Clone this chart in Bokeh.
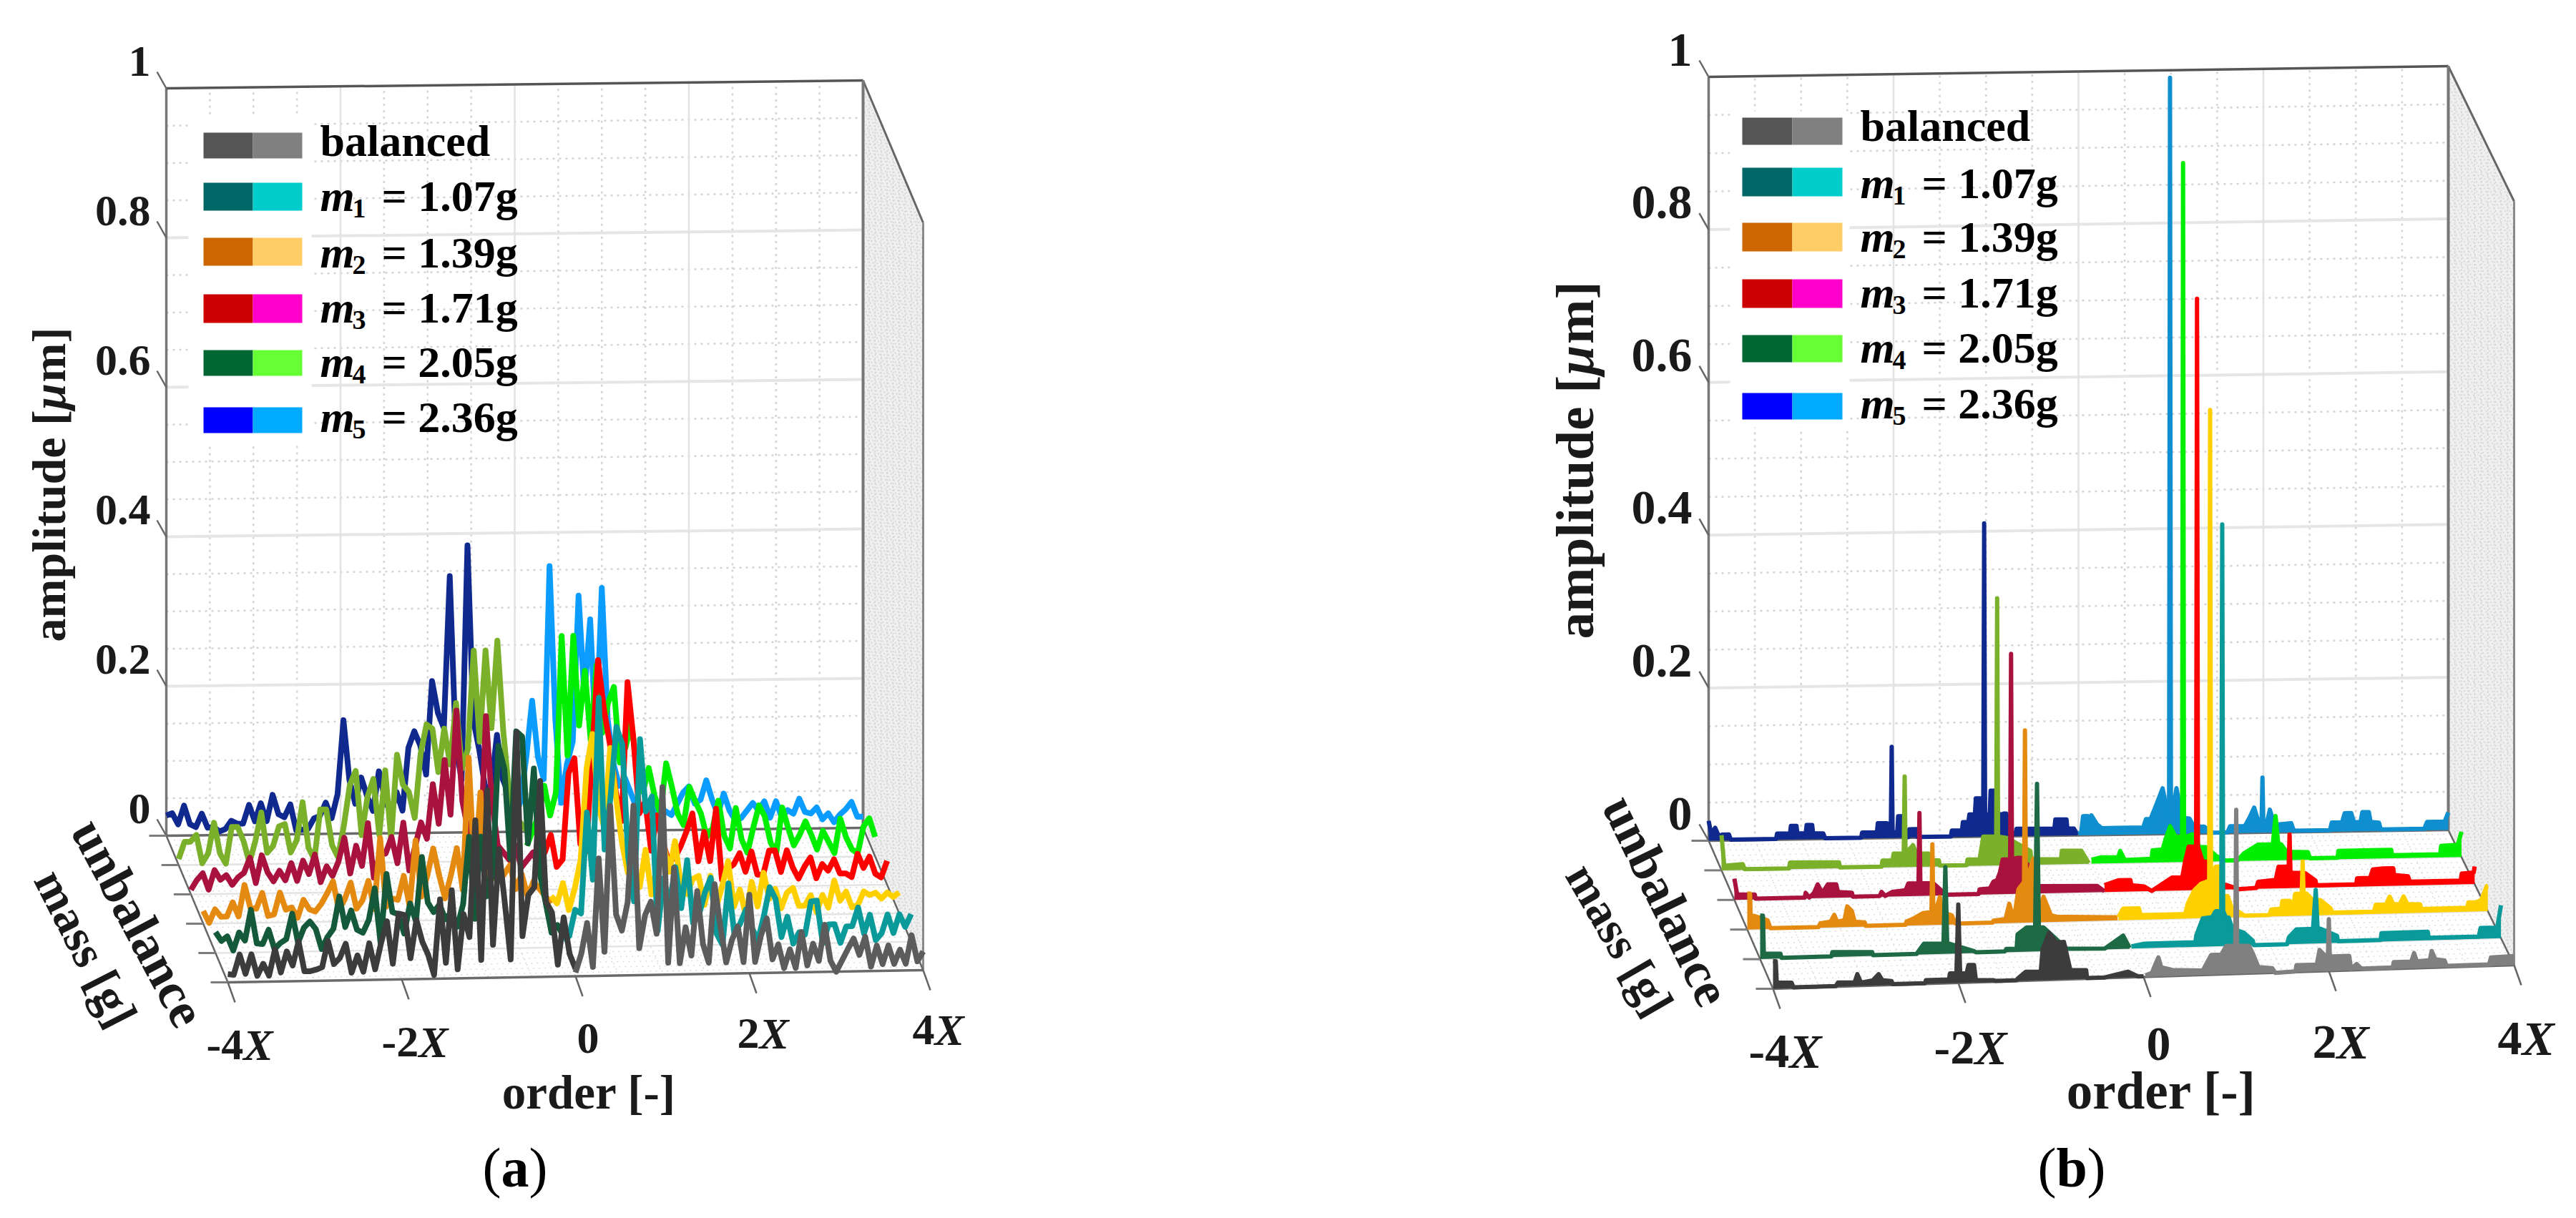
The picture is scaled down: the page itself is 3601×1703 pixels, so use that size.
import math
import numpy as np
from bokeh.plotting import figure
from bokeh.layouts import row
from bokeh.core.properties import value
from bokeh.embed import file_html
from bokeh.resources import INLINE

# ---------------- tick labels / text ----------------
amp_ticks = [0, 0.2, 0.4, 0.6, 0.8, 1]
amp_labels = ["0", "0.2", "0.4", "0.6", "0.8", "1"]
order_ticks = [-4, -2, 0, 2, 4]
order_prefix = ["-4", "-2", "0", "2", "4"]
legend_names = ["balanced", "1", "2", "3", "4", "5"]
legend_values = ["", "= 1.07g", "= 1.39g", "= 1.71g", "= 2.05g", "= 2.36g"]
legend_dark = ["#555555", "#006666", "#cc6600", "#cc0000", "#006633", "#0000ff"]
legend_light = ["#808080", "#00cccc", "#ffcc66", "#ff00cc", "#66ff33", "#00aaff"]

# rows from back (largest mass) to front (balanced)
row_names = ["m5", "m4", "m3", "m2", "m1", "bal"]
colors_a = [("#10298f", "#0a9cff"), ("#7ab02a", "#00ee00"), ("#a8123c", "#ff0000"),
            ("#e48a10", "#ffd000"), ("#14593a", "#0a9a9a"), ("#3c3c3c", "#5c5c5c")]
colors_b = [("#10298f", "#0f8fcf"), ("#7ab02a", "#00ee00"), ("#a8123c", "#ff0000"),
            ("#e48a10", "#ffd000"), ("#1e6a45", "#0a9a9a"), ("#3c3c3c", "#808080")]

# ---------------- panel (a): amplitudes in nm, evenly spaced in order ----------------
a_m5_L = [27,30,15,40,15,11,29,10,11,5,8,19,15,15,40,18,42,18,53,27,23,40,5,6,7,21,24,42,21,53,152,72,40,75,50,30,83,47,25,55,30,114,136,117,78,203,160,140,343,120,70,384,150,110,60,60,130,70,50,30]
a_m5_R = [20,40,100,175,100,70,355,150,38,90,120,315,180,283,120,325,150,90,60,70,50,30,30,25,25,30,25,20,35,50,58,35,40,66,40,20,48,25,12,15,25,35,25,37,15,37,15,25,20,40,22,20,28,12,20,8,18,25,35,15,15]
a_m4_L = [8,31,31,40,2,15,56,15,1,50,50,31,2,31,69,15,24,50,53,15,31,82,21,5,72,72,24,8,50,104,123,37,88,112,37,123,31,144,104,94,59,145,184,178,120,178,130,212,124,150,282,160,282,178,295,174,90,60,50,40]
a_m4_R = [20,40,60,100,60,90,300,140,300,180,253,160,260,170,210,231,130,150,183,120,90,122,85,60,128,96,60,45,96,77,60,29,40,77,30,13,67,25,7,40,70,55,20,7,67,40,16,30,48,30,10,35,20,5,51,26,10,4,40,51,26]
a_m3_L = [6,19,28,6,32,19,25,12,22,28,48,14,51,28,16,30,17,40,16,43,25,51,14,35,22,41,73,25,62,35,92,19,50,51,73,38,92,28,60,92,70,143,90,175,102,241,120,80,60,40,233,120,60,50,40,60,30,40,50,30]
a_m3_R = [40,50,73,30,40,155,175,60,50,180,306,240,194,130,90,276,200,100,116,50,97,60,35,40,55,75,99,35,74,35,105,10,25,30,45,20,47,16,16,48,48,19,48,25,10,26,38,10,29,20,35,16,16,11,42,23,38,15,10,32]
a_m2_L = [17,1,19,9,9,28,9,51,20,19,40,9,11,40,17,20,6,30,17,14,24,38,54,16,30,52,17,28,54,16,111,19,30,28,60,19,107,32,60,96,60,29,60,96,40,217,60,170,40,60,50,60,72,40,60,30,50,40,30,20]
a_m2_R = [30,20,47,11,40,78,200,246,150,120,227,160,100,60,70,40,90,30,70,100,60,101,40,30,50,54,15,54,12,40,73,12,35,0,45,12,57,22,35,9,30,36,12,12,26,3,26,9,45,18,30,9,12,30,25,28,20,28,22,28]
a_m1_L = [28,16,22,3,27,16,57,12,11,30,4,12,17,51,12,32,40,30,3,19,30,73,32,54,28,24,41,83,9,102,51,48,22,62,38,124,63,50,60,40,50,30,60,150,40,150,70,100,271,240,120,290,283,140,240,100,60,20,30,15]
a_m1_R = [10,15,50,45,180,90,333,130,200,294,270,120,60,277,180,200,20,90,55,105,50,114,30,40,70,90,15,0,82,15,28,47,22,5,37,76,60,9,36,0,15,12,56,57,0,25,25,0,22,22,47,12,37,3,12,37,12,37,20,37]
a_bal_L = [11,10,37,11,37,8,24,8,43,12,40,21,53,13,13,15,18,53,22,30,49,10,33,11,49,14,49,78,21,88,86,28,79,50,32,5,106,21,118,12,86,55,211,24,251,44,172,100,24,328,55,110,120,262,100,86,16,79,30,10]
a_bal_R = [5,30,71,12,157,32,227,82,60,98,227,36,80,98,55,251,16,143,15,63,25,111,40,15,120,63,15,45,63,15,105,15,50,73,18,38,6,31,6,54,9,38,15,63,15,0,15,30,44,22,46,6,34,9,34,9,28,9,47,12,25]

# ---------------- panel (b): envelope of the spectra, order and amplitude (nm) ----------------
b_m5_Lo = [-4.00,-3.97,-3.93,-3.89,-3.85,-3.78,-3.76,-3.27,-3.26,-3.12,-3.11,-3.05,-3.04,-2.95,-2.94,-2.88,-2.87,-2.76,-2.74,-2.35,-2.34,-2.18,-2.17,-2.07,-2.03,-2.02,-2.01,-1.96,-1.95,-1.90,-1.88,-1.84,-1.83,-1.75,-1.74,-1.38,-1.37,-1.26,-1.25,-1.19,-1.18,-1.12,-1.11,-1.06,-1.03,-1.02,-1.01,-.96,-.95,-.90,-.89,-.82,-.81,-.78,-.75,-.68,-.67,-.26,-.25,-.13,-.12,-.05,-.01]
b_m5_La = [26,8,17,6,8,8,1,1,9,9,19,19,9,9,20,20,9,9,1,1,10,10,22,22,10,122,10,10,31,31,3,3,14,14,2,2,12,12,23,23,33,33,54,54,33,414,33,33,64,64,33,33,34,34,8,8,14,14,26,26,14,14,2]
b_m5_Ro = [0,.03,.05,.1,.12,.14,.2,.25,.43,.70,.73,.78,.84,.91,.96,.98,.99,1.0,1.02,1.06,1.12,1.2,1.25,1.36,1.45,1.61,1.64,1.8,1.85,1.9,1.96,1.98,1.99,2.0,2.03,2.07,2.12,2.3,2.33,2.72,2.74,2.85,2.88,2.95,2.98,3.05,3.07,3.14,3.16,3.25,3.27,3.74,3.77,3.96,4.0]
b_m5_Ra = [2,4,25,25,14,26,14,9,9,9,20,20,38,60,30,30,990,30,30,60,21,20,9,9,1,1,9,9,20,33,9,9,72,9,9,30,10,12,2,2,12,12,24,24,12,12,25,25,12,11,2,2,11,11,23]
b_m4_Lo = [-4.0,-3.97,-3.77,-3.75,-3.27,-3.26,-2.73,-2.72,-2.27,-2.26,-2.15,-2.14,-2.03,-2.02,-2.01,-1.93,-1.89,-1.76,-1.74,-1.65,-1.64,-1.35,-1.34,-1.21,-1.17,-1.03,-1.02,-1.01,-.91,-.66,-.65,-.33,-.32,-.11,-.03]
b_m4_La = [46,6,8,1,1,10,10,2,2,12,12,21,21,122,21,32,21,21,12,12,4,4,13,13,43,43,355,43,41,24,13,13,24,24,6]
b_m4_Ro = [0,.1,.29,.31,.36,.65,.66,.77,.8,.85,.91,.96,.98,.99,1.0,1.02,1.09,1.17,1.24,1.35,1.45,1.58,1.65,1.8,1.92,1.96,1.99,2.02,2.05,2.11,2.34,2.36,2.66,2.67,3.24,3.25,3.77,3.78,3.96,4.0]
b_m4_Ra = [5,8,8,16,4,5,16,17,30,47,33,33,33,915,33,33,36,19,19,7,1,1,10,21,21,21,58,21,21,11,10,2,2,11,11,4,4,15,16,33]
b_m3_Lo = [-4.0,-3.97,-3.78,-3.77,-3.24,-3.23,-3.19,-3.14,-3.1,-3.05,-2.99,-2.9,-2.88,-2.73,-2.72,-2.43,-2.41,-2.37,-2.29,-2.15,-2.12,-2.03,-2.01,-2.0,-1.99,-1.97,-1.85,-1.74,-1.71,-1.36,-1.35,-1.24,-1.2,-1.16,-1.13,-1.1,-1.06,-1.02,-1.01,-1.0,-.95,-.9,-.83,-.81,-.69,-.08,0]
b_m3_La = [28,7,7,1,2,9,2,9,20,9,20,20,10,9,1,1,10,3,10,12,21,21,21,113,21,21,21,9,4,4,13,14,23,25,35,52,52,52,321,52,54,54,45,17,17,17,9]
b_m3_Ro = [0,.15,.28,.29,.43,.51,.73,.84,.87,.91,.95,.99,1.0,1.01,1.06,1.1,1.12,1.31,1.45,1.64,1.66,1.85,1.88,1.96,1.99,2.0,2.01,2.03,2.17,2.28,2.29,2.72,2.73,2.87,2.9,3.01,3.12,3.13,3.28,3.3,3.85,3.86,3.99,4.0]
b_m3_Ra = [9,15,15,8,6,0,17,17,37,57,57,57,774,57,37,37,9,6,0,1,9,11,28,28,28,70,20,20,19,9,3,3,11,11,22,23,23,14,12,5,5,14,15,23]
b_m2_Lo = [-4.0,-3.97,-3.96,-3.93,-3.78,-3.75,-3.23,-3.21,-3.1,-3.06,-3.03,-2.95,-2.92,-2.87,-2.84,-2.73,-2.72,-2.29,-2.28,-2.22,-2.1,-2.04,-2.01,-2.0,-1.99,-1.97,-1.92,-1.89,-1.79,-1.75,-1.35,-1.34,-1.21,-1.17,-1.12,-1.07,-1.02,-1.01,-1.0,-.99,-.91,-.85,-.8,-.72,-.66,-.14,0]
b_m2_La = [47,47,5,18,12,1,1,8,10,19,10,12,30,24,10,9,2,2,10,13,21,22,22,111,22,22,42,22,18,4,4,11,13,33,12,52,60,60,260,60,92,20,42,18,16,15,15]
b_m2_Ro = [.01,.06,.23,.25,.73,.76,.83,.9,.97,.99,1.0,1.01,1.06,1.1,1.12,1.19,1.23,1.3,1.37,1.64,1.66,1.77,1.78,1.86,1.89,1.92,1.99,2.0,2.01,2.04,2.11,2.19,2.3,2.32,2.77,2.79,2.9,2.94,2.98,3.05,3.09,3.13,3.27,3.28,3.78,3.79,3.88,3.93,3.99,4.0]
b_m2_Ra = [4,15,15,6,6,20,37,45,48,48,665,48,67,67,29,28,14,8,2,2,9,10,20,20,8,29,29,71,29,29,20,20,9,3,3,12,12,22,12,12,22,12,11,5,5,12,12,15,33,33]
b_m1_Lo = [-4.0,-3.97,-3.96,-3.78,-3.77,-3.23,-3.22,-2.79,-2.78,-2.31,-2.29,-2.23,-2.02,-2.0,-1.98,-1.96,-1.69,-1.67,-1.36,-1.34,-1.23,-1.22,-1.12,-1.03,-1.01,-.99,-.94,-.86,-.69,-.28,-.08,-.01]
b_m1_La = [57,57,7,7,0,0,9,9,1,1,10,20,20,120,20,20,10,4,4,13,13,32,41,41,229,41,41,32,13,13,30,8]
b_m1_Ro = [.01,.15,.7,.71,.78,.88,.92,.96,.98,.99,1.0,1.03,1.06,1.1,1.22,1.32,1.33,1.69,1.71,1.79,1.93,1.97,2.0,2.02,2.05,2.23,2.24,2.7,2.71,3.21,3.22,3.76,3.78,3.96,4.0]
b_m1_Ra = [3,6,6,15,37,38,46,46,46,552,46,37,37,22,17,6,0,0,9,19,19,19,70,19,19,9,2,2,11,11,3,3,14,14,43]
b_bal_Lo = [-4.0,-3.97,-3.96,-3.8,-3.78,-3.32,-3.3,-3.12,-3.09,-3.05,-2.92,-2.86,-2.82,-2.72,-2.71,-2.36,-2.35,-2.1,-2.09,-2.02,-2.0,-1.98,-1.91,-1.89,-1.83,-1.81,-1.62,-1.6,-1.37,-1.36,-1.27,-1.11,-1.09,-1.02,-.94,-.86,-.79,-.62,-.61,-.42,-.17,-.06,0]
b_bal_La = [36,36,8,8,0,0,8,8,19,8,11,19,11,10,2,2,11,12,20,20,110,20,20,31,31,11,11,2,2,13,22,22,51,73,60,61,24,24,13,13,22,13,1]
b_bal_Ro = [.02,.09,.12,.16,.19,.31,.64,.68,.73,.84,.89,.96,.99,1.0,1.01,1.03,1.14,1.18,1.24,1.39,1.42,1.64,1.65,1.87,1.9,1.97,1.99,2.0,2.01,2.04,2.22,2.24,2.3,2.35,2.69,2.7,2.89,2.92,2.95,3.09,3.11,3.15,3.25,3.27,3.73,3.75,4.0]
b_bal_Ra = [2,5,14,25,12,8,6,15,26,26,37,37,37,215,37,37,36,26,8,6,0,1,9,9,28,19,19,68,19,19,19,2,8,2,2,9,9,20,9,10,22,11,9,2,2,11,12]
# the left-half envelopes above were read against a level line; the row baseline rises by this much (nm) towards order 0
b_left_rise = [5, 7, 9, 11, 13, 15]

FONT = value("Liberation Serif")


def txt(p, x, y, s, size, style="bold", align="left", base="middle", angle=0.0, color="#1a1a1a"):
    p.text(x=[x], y=[y], text=[s], text_font=FONT, text_font_size=f"{size}px", text_font_style=style,
           text_align=align, text_baseline=base, angle=angle, text_color=color)


class Panel:
    def __init__(self, xr, cfg):
        self.cfg = cfg
        self.fig = figure(width=xr[1] - xr[0], height=1700, x_range=xr, y_range=(1700, 0),
                          output_backend="svg", toolbar_location=None,
                          x_axis_location=None, y_axis_location=None, min_border=0,
                          outline_line_color=None, background_fill_color="white")
        self.fig.grid.visible = False

    def P(self, order, depth, amp):
        """oblique projection of (order, unbalance row, amplitude) into the page"""
        c = self.cfg
        u = (np.asarray(order, dtype=float) + 4) / 8
        d = np.asarray(depth, dtype=float)
        a = np.asarray(amp, dtype=float)
        bx = c["BL"][0] + (c["BR"][0] - c["BL"][0]) * u
        by = c["BL"][1] + (c["BR"][1] - c["BL"][1]) * u
        fx = c["FL"][0] + (c["FR"][0] - c["FL"][0]) * u
        fy = c["FL"][1] + (c["FR"][1] - c["FL"][1]) * u
        return bx + (fx - bx) * d, by + (fy - by) * d - a * c["H"]

    def seg(self, p0, p1, color, width, dash="solid", dx=(0, 0), dy=(0, 0)):
        x0, y0 = self.P(*p0)
        x1, y1 = self.P(*p1)
        self.fig.line([float(x0) + dx[0], float(x1) + dx[1]], [float(y0) + dy[0], float(y1) + dy[1]],
                      line_color=color, line_width=width, line_dash=dash)

    def box(self):
        p = self.fig
        c = self.cfg
        # right wall
        xs, ys = self.P([4, 4, 4, 4], [0, 1, 1, 0], [1, 1, 0, 0])
        p.patch(list(xs), list(ys), fill_color="#efefef", line_color=None)
        xl, yl = [], []
        for a in np.arange(0, 1.0, 0.0125):
            x, y = self.P([4, 4], [0, 1], [a, a])
            xl.append(list(x)); yl.append(list(y))
        for d in np.arange(0, 1.01, 0.1):
            x, y = self.P([4, 4], [d, d], [0, 1])
            xl.append(list(x)); yl.append(list(y))
        p.multi_line(xl, yl, line_color="#d2d2d2", line_width=1.5, line_dash="2 3")
        # back wall minor grid
        xl, yl = [], []
        for a in np.arange(0.05, 1.0, 0.05):
            if round(a * 20) % 4 == 0:
                continue
            x, y = self.P([-4, 4], [0, 0], [a, a])
            xl.append(list(x)); yl.append(list(y))
        for o in np.arange(-3.5, 4, 0.5):
            if abs(o % 2) < 1e-6:
                continue
            x, y = self.P([o, o], [0, 0], [0, 1])
            xl.append(list(x)); yl.append(list(y))
        p.multi_line(xl, yl, line_color="#d4d4d4", line_width=2.5, line_dash="3 6")
        # floor dots
        xl, yl = [], []
        for d in np.arange(0.03, 1.0, 0.035):
            x, y = self.P([-4, 4], [d, d], [0, 0])
            xl.append(list(x)); yl.append(list(y))
        for o in np.arange(-3.5, 4, 0.5):
            x, y = self.P([o, o], [0, 1], [0, 0])
            xl.append(list(x)); yl.append(list(y))
        p.multi_line(xl, yl, line_color="#dcdcdc", line_width=1.5, line_dash="2 6")
        # back wall major grid
        for a in amp_ticks[1:-1]:
            self.seg((-4, 0, a), (4, 0, a), "#e6e6e6", 4)
        for o in order_ticks[1:-1]:
            self.seg((o, 0, 0), (o, 0, 1), "#e2e2e2", 2.5)
        # white patch behind the legend
        lx = c["legend_clear_x"]; ly = c["legend_clear_y"]
        p.quad(left=[lx[0]], right=[lx[1]], top=[ly[0]], bottom=[ly[1]], fill_color="white", line_color=None)
        # floor grid rows
        for i in range(6):
            self.seg((-4, i / 5, 0), (4, i / 5, 0), "#e4e4e4", 2.5)
        # frame
        self.seg((-4, 0, 0), (-4, 0, 1), "#777777", 3.5)
        self.seg((-4, 0, 1), (4, 0, 1), "#555555", 3.5)
        self.seg((4, 0, 1), (4, 1, 1), "#666666", 3)
        self.seg((4, 0, 0), (4, 0, 1), "#777777", 4)
        self.seg((4, 1, 0), (4, 1, 1), "#8a8a8a", 3)
        self.seg((-4, 0, 0), (4, 0, 0), "#6a6a6a", 3.5)
        self.seg((-4, 1, 0), (4, 1, 0), "#6a6a6a", 3.5)
        self.seg((-4, 0, 0), (-4, 1, 0), "#666666", 2.5)
        self.seg((4, 0, 0), (4, 1, 0), "#666666", 2.5)
        # ticks
        for a in amp_ticks:
            self.seg((-4, 0, a), (-4, 0, a), "#666666", 2.5, dx=(0, -13), dy=(0, -23))
        for i in range(6):
            self.seg((-4, i / 5, 0), (-4, i / 5, 0), "#7d7d7d", 3, dx=(0, -24), dy=(0, 0))
        for o in order_ticks:
            self.seg((o, 1, 0), (o, 1, 0), "#666666", 2.5, dx=(0, 10), dy=(0, 28))

    def spectra_a(self, L, R, colors, lw):
        for i, name in enumerate(row_names):
            for vals, col, rng in ((L[i], colors[i][0], (-4, 0)), (R[i], colors[i][1], (0, 4))):
                o = np.linspace(rng[0], rng[1], len(vals))
                x, y = self.P(o, np.full(len(vals), i / 5), np.array(vals) / 1000)
                self.fig.line(list(x), list(y), line_color=col, line_width=lw, line_join="round")

    def spectra_b(self, series, colors, lw):
        for i, name in enumerate(row_names):
            Lo, La, Ro, Ra = series[i]
            lo = np.array(Lo, dtype=float)
            la = np.clip(np.array(La, dtype=float) - b_left_rise[i] * (lo + 4) / 4, 1, None)
            for oo, aa, col in ((lo, la, colors[i][0]), (np.array(Ro), np.array(Ra, dtype=float), colors[i][1])):
                d = np.full(len(oo), i / 5)
                x, y = self.P(oo, d, aa / 1000)
                bx, by = self.P([oo[0], oo[-1]], [i / 5, i / 5], [0, 0])
                self.fig.patch([bx[0]] + list(x) + [bx[1]], [by[0]] + list(y) + [by[1]],
                               fill_color=col, line_color=None)
                self.fig.line(list(x), list(y), line_color=col, line_width=lw, line_join="round")

    def legend(self):
        c = self.cfg
        p = self.fig
        xs = c["sw_x"]
        for i in range(6):
            t, b = c["sw_y"][i]
            p.quad(left=[xs[0]], right=[xs[1]], top=[t], bottom=[b], fill_color=legend_dark[i], line_color=None)
            p.quad(left=[xs[1]], right=[xs[2]], top=[t], bottom=[b], fill_color=legend_light[i], line_color=None)
            y = c["lt_y"][i]
            if i == 0:
                txt(p, c["lt_x"], y, legend_names[0], 62, "bold", color="black")
            else:
                txt(p, c["lt_x"], y, "m", 62, "bold italic", color="black")
                txt(p, c["lt_x"] + 45, y + 18, legend_names[i], 38, "bold", color="black")
                txt(p, c["eq_x"], y, legend_values[i], 62, "bold", color="black")

    def labels(self):
        c = self.cfg
        p = self.fig
        for a, s in zip(amp_ticks, amp_labels):
            x, y = self.P(-4, 0, a)
            txt(p, c["ytick_r"], float(y) - 38, s, c["tick_fs"], "bold", align="right")
        for s, (lx, ly) in zip(order_prefix, c["xt"]):
            txt(p, lx, ly, s, c["tick_fs"], "bold")
            if s != "0":
                w = sum(0.333 if ch == "-" else 0.5 for ch in s) * c["tick_fs"]
                txt(p, lx + w, ly, "X", c["tick_fs"], "bold italic")
        # ylabel
        yx, yb, fs = c["ylab"]
        rot = math.pi / 2
        txt(p, yx, yb, "amplitude [", fs, "bold", angle=rot)
        txt(p, yx, yb - 4.92 * fs, "\u03bc", fs, "bold italic", angle=rot)
        txt(p, yx, yb - 5.5 * fs, "m]", fs, "bold", angle=rot)
        # depth labels
        for s, (lx, ly), fs, deg in c["depth"]:
            txt(p, lx, ly, s, fs, "bold", align="center", angle=math.radians(deg))
        lx, ly, fs = c["xlab"]
        txt(p, lx, ly, "order [-]", fs, "bold", align="center")
        lx, ly, s, wb = c["cap"]
        txt(p, lx, ly, "(", 78, "normal", color="black")
        txt(p, lx + 26, ly, s, 78, "bold", color="black")
        txt(p, lx + 26 + wb, ly, ")", 78, "normal", color="black")


cfg_a = dict(
    BL=(232, 1168), BR=(1206, 1157), FL=(318, 1373), FR=(1290, 1356), H=1045,
    legend_clear_x=(263, 435), legend_clear_y=(160, 622),
    sw_x=(284, 353, 422),
    sw_y=[(185, 221), (255, 294), (332, 371), (411, 451), (489, 525), (569, 605)],
    lt_x=447, eq_x=533, lt_y=[196, 273, 352, 429, 505, 582],
    ytick_r=210, tick_fs=62,
    xt=[(288, 1460), (533, 1456), (806, 1451), (1030, 1444), (1275, 1439)],
    ylab=(68, 897, 66),
    depth=[("unbalance", (193, 1290), 72, -62), ("mass [g]", (120, 1325), 67, -63)],
    xlab=(823, 1526, 67), cap=(674, 1632, "a", 39),
)
cfg_b = dict(
    BL=(2388, 1175), BR=(3422, 1160), FL=(2478, 1382), FR=(3514, 1349), H=1068,
    legend_clear_x=(2418, 2585), legend_clear_y=(155, 597),
    sw_x=(2435, 2505, 2575),
    sw_y=[(164, 202), (234, 274), (311, 351), (390, 430), (468, 506), (549, 586)],
    lt_x=2600, eq_x=2686, lt_y=[175, 255, 330, 408, 485, 563],
    ytick_r=2365, tick_fs=68,
    xt=[(2444, 1469), (2703, 1464), (3000, 1459), (3232, 1456), (3491, 1451)],
    ylab=(2201, 893, 75),
    depth=[("unbalance", (2329, 1259), 72, -64), ("mass [g]", (2264, 1313), 66, -60)],
    xlab=(3021, 1525, 73), cap=(2848, 1632, "b", 43),
)

pa = Panel((0, 1800), cfg_a)
pa.box()
pa.spectra_a([a_m5_L, a_m4_L, a_m3_L, a_m2_L, a_m1_L, a_bal_L],
             [a_m5_R, a_m4_R, a_m3_R, a_m2_R, a_m1_R, a_bal_R], colors_a, 8)
pa.legend()
pa.labels()

pb = Panel((1800, 3600), cfg_b)
pb.box()
pb.spectra_b([(b_m5_Lo, b_m5_La, b_m5_Ro, b_m5_Ra), (b_m4_Lo, b_m4_La, b_m4_Ro, b_m4_Ra),
              (b_m3_Lo, b_m3_La, b_m3_Ro, b_m3_Ra), (b_m2_Lo, b_m2_La, b_m2_Ro, b_m2_Ra),
              (b_m1_Lo, b_m1_La, b_m1_Ro, b_m1_Ra), (b_bal_Lo, b_bal_La, b_bal_Ro, b_bal_Ra)],
             colors_b, 6)
pb.legend()
pb.labels()

layout = row(pa.fig, pb.fig, spacing=0)
open("out.html", "w").write(file_html(layout, INLINE))
